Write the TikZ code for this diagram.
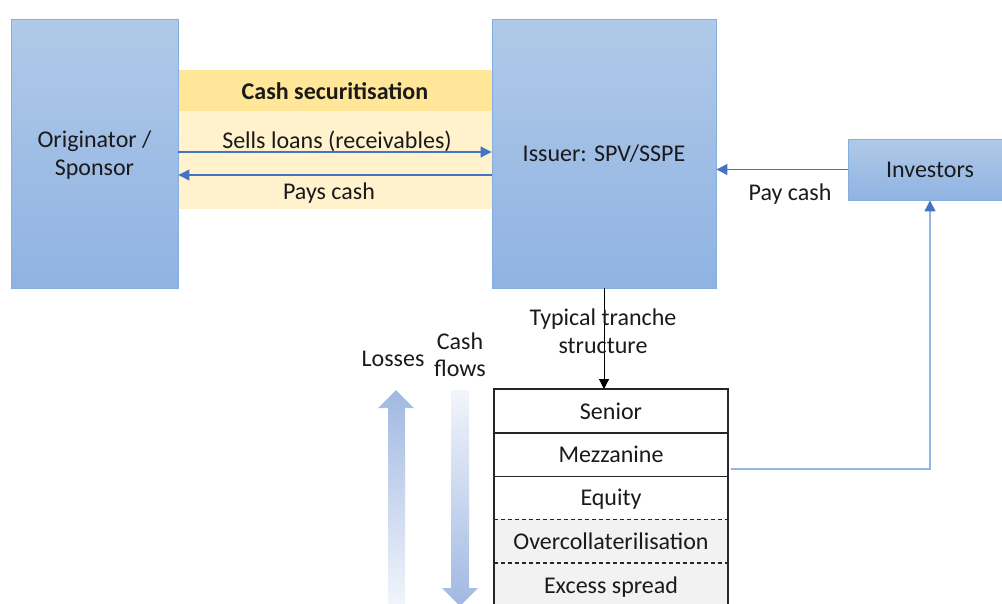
\documentclass[tikz,border=0pt]{standalone}
\usepackage{fontspec}
\setmainfont{Carlito}
\usetikzlibrary{arrows.meta}
\definecolor{boxtop}{HTML}{B0C9E8}
\definecolor{boxbot}{HTML}{8FB3E2}
\definecolor{boxline}{HTML}{85AEDF}
\definecolor{flowblue}{HTML}{4472C4}
\definecolor{paleline}{HTML}{95B5E2}
\definecolor{bandhead}{HTML}{FFE699}
\definecolor{bandbody}{HTML}{FFF2CC}
\definecolor{txt}{HTML}{1A1A1A}
\definecolor{greyrow}{HTML}{F2F2F2}
\definecolor{bigarrow}{HTML}{A0B8E2}
\definecolor{bigpale}{HTML}{F2F5FB}
\definecolor{rule}{HTML}{262626}
\tikzset{
  party/.style={draw=boxline, line width=0.9pt, top color=boxtop, bottom color=boxbot,
    text=txt, align=center, inner sep=0pt, text depth=0pt},
  lbl/.style={text=txt, align=center, inner sep=0pt, text depth=0pt},
  flow/.style={draw=flowblue, line width=1.1pt, -{Triangle[length=11pt,width=11pt]}},
  tranche/.style={minimum width=234pt, minimum height=43.5pt, inner sep=0pt, text=txt, text depth=0pt},
  solidrule/.style={line width=1.6pt, rule},
  dashrule/.style={line width=1.3pt, rule, dash pattern=on 4.5pt off 2.5pt},
}
\begin{document}
\begin{tikzpicture}[x=1pt,y=-1pt,font=\fontsize{24}{28}\selectfont]
\useasboundingbox (0,0) rectangle (1002,603);

% securitisation band between originator and issuer
\fill[bandhead] (178,70) rectangle (492,111);
\fill[bandbody] (178,111) rectangle (492,209);

% parties
\node[party, minimum width=167pt, minimum height=269pt] (orig) at (94.5,153.5) {Originator /\\Sponsor};
\node[party, minimum width=224pt, minimum height=269pt] (iss) at (604,153.5) {Issuer: SPV/SSPE};
\node[party, minimum width=164pt, minimum height=61pt] (inv) at (930,169.5) {Investors};

% band texts
\node[lbl, font=\fontsize{24}{28}\selectfont\bfseries] (cashsec) at (335,91) {Cash securitisation};
\node[lbl] (sells) at (337,140) {Sells loans (receivables)};
\node[lbl] (pays) at (329,191) {Pays cash};
\node[lbl] (paycash) at (790,192) {Pay cash};

% flows between parties
\coordinate (sellsY) at (0,152);
\coordinate (paysY) at (0,175);
\draw[flow] (orig.east |- sellsY) -- (iss.west |- sellsY);
\draw[flow] (iss.west |- paysY) -- (orig.east |- paysY);
\draw[flow] (inv.west) -- (inv.west -| iss.east);

% tranche stack
\node[tranche, fill=white] (sen) at (611,411) {Senior};
\node[tranche, fill=white] (mez) at (611,454.5) {Mezzanine};
\node[tranche, fill=white] (equ) at (611,497.5) {Equity};
\node[tranche, fill=greyrow] (ovc) at (611,541) {Overcollaterilisation};
\node[tranche, fill=greyrow] (exs) at (611,585) {Excess spread};
\draw[solidrule] (exs.south west) -- (sen.north west) -- (sen.north east) -- (exs.south east);
\draw[solidrule] (sen.south west) -- (sen.south east);
\draw[solidrule] (mez.south west) -- (mez.south east);
\draw[dashrule] (equ.south west) -- (equ.south east);
\draw[dashrule] (ovc.south west) -- (ovc.south east);

% issuer to tranche structure
\draw[line width=0.9pt, -{Triangle[length=10pt,width=10pt]}] (iss.south) -- (iss.south |- sen.north);
\node[lbl] (typical) at (603,331) {Typical tranche\\structure};

% mezzanine notes go to investors
\coordinate (mzout) at (731,469);
\draw[paleline, line width=1.4pt, -{Triangle[length=11pt,width=11pt,color=flowblue]}]
  (mzout) -- (mzout -| inv.south) -- (inv.south);

% losses and cash-flow direction arrows
\shade[top color=bigarrow, bottom color=bigpale]
  (388,606) -- (388,408) -- (378,408) -- (396,390) -- (414,408) -- (405,408) -- (405,606) -- cycle;
\shade[top color=bigpale, bottom color=bigarrow]
  (451,390) -- (451,588) -- (442,588) -- (460,606) -- (478,588) -- (469,588) -- (469,390) -- cycle;
\node[lbl] (losses) at (393,359) {Losses};
\node[lbl, font=\fontsize{24}{27}\selectfont] (cashflows) at (460,355) {Cash\\flows};
\end{tikzpicture}
\end{document}
